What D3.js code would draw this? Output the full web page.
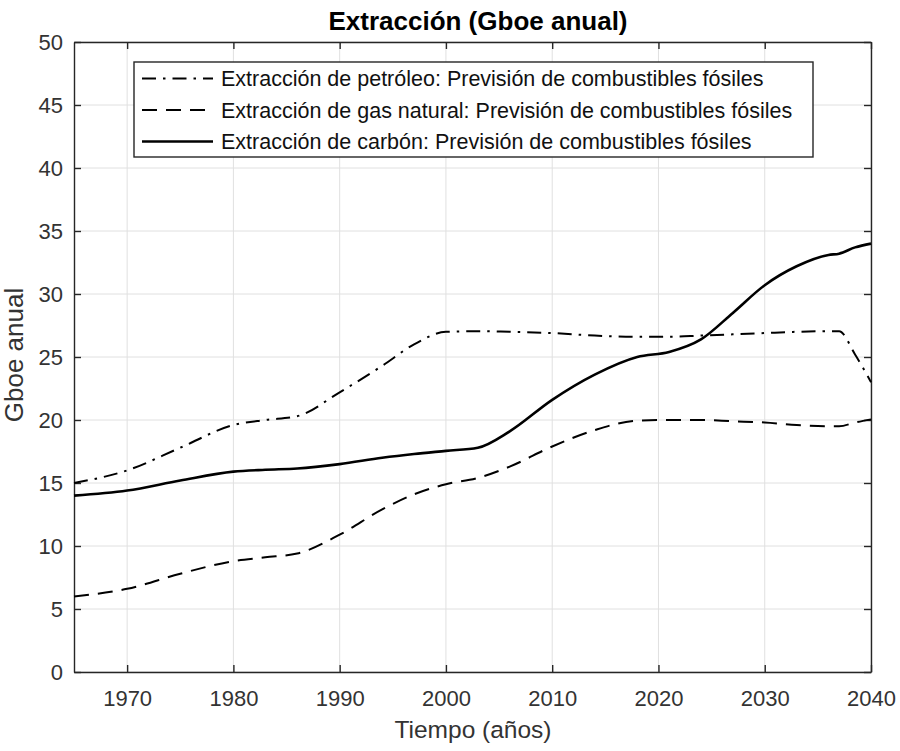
<!DOCTYPE html>
<html>
<head>
<meta charset="utf-8">
<script src="https://cdn.jsdelivr.net/npm/d3@7"></script>
<style>
body { margin: 0; background: #fff; }
text { font-family: "Liberation Sans", Arial, sans-serif; }
</style>
</head>
<body>
<script>
var width = 900;
var height = 751;

// data
var years = [1965, 1970, 1975, 1980, 1983, 1986, 1990, 1994, 1997, 2000, 2003, 2006, 2010, 2014, 2018, 2021, 2024, 2027, 2030, 2033, 2036, 2037, 2038.5, 2040];
var oil   = [15, 16, 17.8, 19.6, 20.0, 20.3, 22.2, 24.3, 26.0, 27.0, 27.05, 27.0, 26.9, 26.7, 26.6, 26.6, 26.7, 26.8, 26.9, 27.0, 27.05, 27.05, 25.2, 23];
var gas   = [6.0, 6.6, 7.8, 8.8, 9.1, 9.4, 10.9, 12.9, 14.1, 14.9, 15.4, 16.3, 17.9, 19.2, 19.95, 20.0, 20.0, 19.9, 19.8, 19.6, 19.5, 19.5, 19.8, 20.05];
var coal  = [14, 14.4, 15.2, 15.9, 16.05, 16.15, 16.5, 17.0, 17.3, 17.55, 17.8, 19.1, 21.6, 23.6, 25.0, 25.4, 26.4, 28.5, 30.7, 32.2, 33.1, 33.2, 33.7, 34];
var xTicks = [1970, 1980, 1990, 2000, 2010, 2020, 2030, 2040];
var yTicks = [0, 5, 10, 15, 20, 25, 30, 35, 40, 45, 50];
var legendLabels = [
    "Extracción de petróleo: Previsión de combustibles fósiles",
    "Extracción de gas natural: Previsión de combustibles fósiles",
    "Extracción de carbón: Previsión de combustibles fósiles"
];

var m = { left: 74, right: 871, top: 42, bottom: 672 };

var svg = d3.select("body").append("svg").attr("width", width).attr("height", height);

var x = d3.scaleLinear().domain([1965, 2040]).range([m.left, m.right]);
var y = d3.scaleLinear().domain([0, 50]).range([m.bottom, m.top]);

// grid
svg.append("g").selectAll("line").data(xTicks).enter().append("line")
    .attr("x1", function (d) { return x(d); }).attr("x2", function (d) { return x(d); })
    .attr("y1", m.top).attr("y2", m.bottom)
    .attr("stroke", "#e0e0e0").attr("stroke-width", 1);
svg.append("g").selectAll("line").data(yTicks).enter().append("line")
    .attr("x1", m.left).attr("x2", m.right)
    .attr("y1", function (d) { return y(d); }).attr("y2", function (d) { return y(d); })
    .attr("stroke", "#e0e0e0").attr("stroke-width", 1);

// axes (ticks inside, box)
var axisColor = "#262626";
var gx = svg.append("g").attr("transform", "translate(0," + m.bottom + ")")
    .call(d3.axisBottom(x).tickValues(xTicks).tickFormat(d3.format("d")).tickSizeInner(-7).tickSizeOuter(0).tickPadding(18));
var gy = svg.append("g").attr("transform", "translate(" + m.left + ",0)")
    .call(d3.axisLeft(y).tickValues(yTicks).tickSizeInner(-7).tickSizeOuter(0).tickPadding(11));
var gx2 = svg.append("g").attr("transform", "translate(0," + m.top + ")")
    .call(d3.axisTop(x).tickValues(xTicks).tickFormat("").tickSizeInner(-7).tickSizeOuter(0));
var gy2 = svg.append("g").attr("transform", "translate(" + m.right + ",0)")
    .call(d3.axisRight(y).tickValues(yTicks).tickFormat("").tickSizeInner(-7).tickSizeOuter(0));
[gx, gy, gx2, gy2].forEach(function (g) {
    g.select(".domain").attr("stroke", axisColor).attr("stroke-width", 1.4);
    g.selectAll(".tick line").attr("stroke", axisColor).attr("stroke-width", 1.4);
    g.selectAll("text").attr("fill", "#333").attr("font-size", 22)
        .attr("font-family", "Liberation Sans, Arial, sans-serif");
});
gy.selectAll("text").attr("dy", "0.36em");

// series
var series = [
    { values: oil, dash: "14,7,2.5,7", w: 2 },
    { values: gas, dash: "15,9", w: 2 },
    { values: coal, dash: null, w: 2.6 }
];
var line = d3.line()
    .x(function (d) { return x(d[0]); })
    .y(function (d) { return y(d[1]); })
    .curve(d3.curveMonotoneX);

svg.append("g").selectAll("path").data(series).enter().append("path")
    .attr("d", function (s) { return line(years.map(function (yr, i) { return [yr, s.values[i]]; })); })
    .attr("fill", "none")
    .attr("stroke", "#000")
    .attr("stroke-width", function (s) { return s.w; })
    .attr("stroke-dasharray", function (s) { return s.dash; });

// legend
var lg = svg.append("g");
lg.append("rect").attr("x", 134).attr("y", 62).attr("width", 679).attr("height", 95)
    .attr("fill", "#fff").attr("stroke", axisColor).attr("stroke-width", 1.4);
series.forEach(function (s, i) {
    var ly = 78.5 + i * 31.5;
    lg.append("line").attr("x1", 142).attr("x2", 213).attr("y1", ly).attr("y2", ly)
        .attr("stroke", "#000").attr("stroke-width", s.w).attr("stroke-dasharray", s.dash);
    lg.append("text").attr("x", 221).attr("y", ly + 7.5).attr("font-size", 21.5)
        .attr("fill", "#111").text(legendLabels[i]);
});

// titles
svg.append("text").attr("x", 478).attr("y", 30).attr("text-anchor", "middle")
    .attr("font-size", 26).attr("font-weight", "bold").attr("fill", "#000")
    .text("Extracción (Gboe anual)");
svg.append("text").attr("x", 473).attr("y", 738).attr("text-anchor", "middle")
    .attr("font-size", 24.5).attr("fill", "#333").text("Tiempo (años)");
svg.append("text").attr("transform", "translate(23,355) rotate(-90)").attr("text-anchor", "middle")
    .attr("font-size", 26).attr("fill", "#333").text("Gboe anual");
</script>
</body>
</html>
